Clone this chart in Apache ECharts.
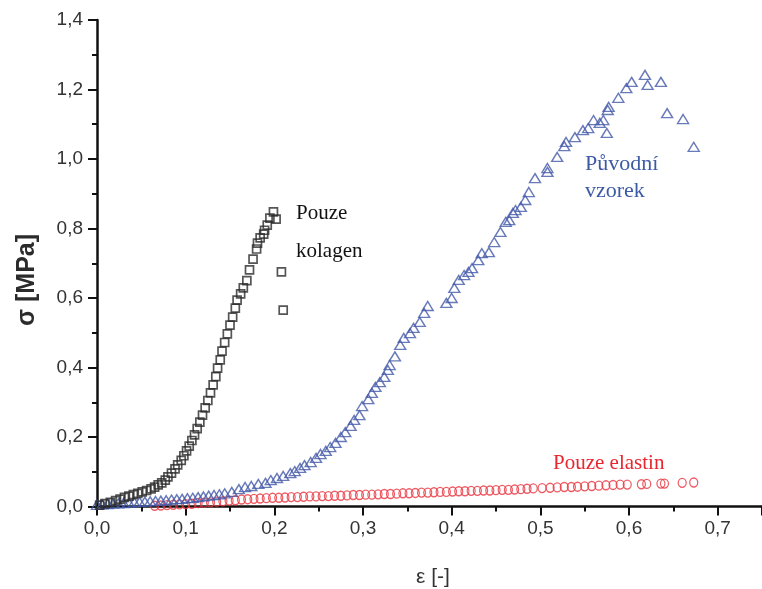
<!DOCTYPE html>
<html>
<head>
<meta charset="utf-8">
<script src="https://cdn.jsdelivr.net/npm/echarts@6/dist/echarts.min.js"></script>
<style>
html,body{margin:0;padding:0;background:#fff;}
#chart{width:762px;height:589px;}
</style>
</head>
<body>
<div id="chart"></div>
<script>
// Tick labels
const xTicks = [0, 0.1, 0.2, 0.3, 0.4, 0.5, 0.6, 0.7];
const yTicks = [0, 0.2, 0.4, 0.6, 0.8, 1.0, 1.2, 1.4];

// Pouze kolagen (black squares)
const kolagenX = [0.003,0.009,0.015,0.021,0.026,0.031,0.036,0.041,0.046,0.051,0.056,0.061,0.065,0.069,0.073,0.077,0.080,0.084,0.088,0.091,0.095,0.098,0.101,0.104,0.107,0.110,0.113,0.116,0.119,0.122,0.125,0.128,0.131,0.134,0.136,0.139,0.141,0.144,0.147,0.150,0.153,0.156,0.158,0.162,0.165,0.169,0.172,0.176,0.180,0.181,0.184,0.188,0.189,0.192,0.195,0.199,0.202,0.208,0.210];
const kolagenY = [0.004,0.008,0.012,0.017,0.021,0.026,0.030,0.034,0.038,0.042,0.046,0.051,0.056,0.062,0.068,0.076,0.085,0.096,0.108,0.120,0.133,0.146,0.160,0.174,0.190,0.206,0.224,0.243,0.263,0.284,0.305,0.327,0.350,0.374,0.398,0.422,0.447,0.472,0.497,0.522,0.545,0.571,0.594,0.612,0.629,0.650,0.681,0.712,0.741,0.758,0.773,0.784,0.795,0.810,0.830,0.848,0.827,0.675,0.565];

// Původní vzorek (blue triangles)
const vzorekX = [0.000,0.006,0.012,0.018,0.024,0.030,0.036,0.042,0.048,0.054,0.060,0.066,0.072,0.078,0.084,0.090,0.096,0.102,0.108,0.114,0.120,0.126,0.132,0.138,0.144,0.152,0.160,0.167,0.174,0.182,0.190,0.196,0.203,0.210,0.218,0.223,0.229,0.234,0.241,0.247,0.252,0.258,0.263,0.269,0.275,0.280,0.286,0.290,0.296,0.299,0.306,0.310,0.314,0.319,0.324,0.328,0.330,0.336,0.342,0.346,0.353,0.357,0.364,0.369,0.373,0.394,0.400,0.403,0.408,0.414,0.419,0.423,0.430,0.434,0.442,0.448,0.455,0.461,0.465,0.469,0.472,0.478,0.483,0.487,0.494,0.508,0.508,0.519,0.527,0.529,0.539,0.548,0.554,0.560,0.567,0.571,0.575,0.576,0.577,0.588,0.597,0.603,0.618,0.621,0.636,0.643,0.661,0.673];
const vzorekY = [0.005,0.006,0.007,0.008,0.009,0.010,0.011,0.012,0.013,0.014,0.015,0.016,0.017,0.018,0.020,0.021,0.022,0.024,0.025,0.027,0.029,0.031,0.033,0.035,0.038,0.042,0.050,0.056,0.059,0.065,0.068,0.076,0.082,0.088,0.096,0.102,0.111,0.119,0.128,0.140,0.151,0.160,0.171,0.183,0.200,0.214,0.232,0.249,0.263,0.289,0.309,0.327,0.344,0.358,0.373,0.393,0.407,0.432,0.465,0.485,0.499,0.514,0.531,0.557,0.577,0.586,0.600,0.629,0.652,0.666,0.675,0.686,0.709,0.729,0.732,0.761,0.790,0.819,0.824,0.845,0.853,0.862,0.882,0.905,0.945,0.963,0.974,1.006,1.037,1.049,1.063,1.083,1.089,1.112,1.104,1.112,1.075,1.141,1.150,1.176,1.204,1.222,1.242,1.213,1.222,1.132,1.115,1.035];

// Pouze elastin (red circles)
const elastinX = [0.065,0.072,0.079,0.086,0.093,0.100,0.107,0.114,0.121,0.128,0.135,0.142,0.149,0.156,0.163,0.170,0.177,0.184,0.191,0.198,0.205,0.212,0.219,0.226,0.233,0.240,0.247,0.254,0.261,0.268,0.275,0.282,0.289,0.296,0.303,0.310,0.317,0.324,0.331,0.338,0.345,0.352,0.359,0.366,0.373,0.380,0.387,0.394,0.401,0.408,0.415,0.422,0.429,0.436,0.443,0.450,0.457,0.464,0.471,0.478,0.485,0.492,0.502,0.511,0.519,0.527,0.535,0.542,0.550,0.558,0.566,0.574,0.582,0.590,0.598,0.614,0.620,0.636,0.640,0.660,0.673];
const elastinY = [0.002,0.003,0.004,0.005,0.006,0.007,0.008,0.010,0.011,0.012,0.014,0.015,0.017,0.018,0.020,0.021,0.022,0.023,0.024,0.025,0.025,0.026,0.027,0.027,0.028,0.029,0.029,0.030,0.030,0.031,0.031,0.032,0.033,0.033,0.034,0.034,0.035,0.036,0.036,0.037,0.038,0.038,0.039,0.040,0.040,0.041,0.042,0.042,0.043,0.044,0.044,0.045,0.045,0.046,0.046,0.047,0.048,0.048,0.049,0.050,0.051,0.052,0.053,0.054,0.055,0.056,0.056,0.057,0.058,0.059,0.060,0.061,0.062,0.063,0.063,0.064,0.065,0.066,0.066,0.068,0.069];

const zip = (xs, ys) => xs.map((x, i) => [x, ys[i]]);
const fmt = v => (Math.round(v * 10) / 10).toFixed(1).replace('.', ',');

const chart = echarts.init(document.getElementById('chart'), null, {renderer: 'canvas'});
chart.setOption({
  animation: false,
  backgroundColor: '#ffffff',
  grid: {left: 97, top: 20, right: -7, bottom: 82.5, containLabel: false},
  xAxis: {
    type: 'value', min: 0, max: 0.75, interval: 0.1,
    axisLine: {onZero: false, lineStyle: {color: '#111', width: 2.5}},
    axisTick: {show: true, inside: false, length: 9, lineStyle: {color: '#111', width: 2}},
    minorTick: {show: true, splitNumber: 2, length: 5, lineStyle: {color: '#111', width: 2}},
    axisLabel: {
      formatter: v => xTicks.some(t => Math.abs(t - v) < 1e-9) ? fmt(v) : '',
      showMaxLabel: false,
      fontFamily: 'Liberation Sans, Arial, sans-serif', fontSize: 19, color: '#333', margin: 13
    },
    splitLine: {show: false}
  },
  yAxis: {
    type: 'value', min: 0, max: 1.4, interval: 0.2,
    axisLine: {onZero: false, lineStyle: {color: '#111', width: 2.5}},
    axisTick: {show: true, inside: false, length: 9, lineStyle: {color: '#111', width: 2}},
    minorTick: {show: true, splitNumber: 2, length: 5, lineStyle: {color: '#111', width: 2}},
    axisLabel: {
      formatter: v => yTicks.some(t => Math.abs(t - v) < 1e-9) ? fmt(v) : '',
      fontFamily: 'Liberation Sans, Arial, sans-serif', fontSize: 19, color: '#333', margin: 14
    },
    splitLine: {show: false}
  },
  series: [
    {
      name: 'Pouze elastin', type: 'scatter', data: zip(elastinX, elastinY),
      symbol: 'circle', symbolSize: [8, 9],
      itemStyle: {color: 'rgba(0,0,0,0)', borderColor: '#e8333d', borderWidth: 1.3}
    },
    {
      name: 'Původní vzorek', type: 'scatter', data: zip(vzorekX, vzorekY),
      symbol: 'triangle', symbolSize: [11, 9],
      itemStyle: {color: 'rgba(0,0,0,0)', borderColor: '#4459a8', borderWidth: 1.4}
    },
    {
      name: 'Pouze kolagen', type: 'scatter', data: zip(kolagenX, kolagenY),
      symbol: 'rect', symbolSize: 8,
      itemStyle: {color: 'rgba(0,0,0,0)', borderColor: '#2a2a2a', borderWidth: 1.7}
    }
  ],
  graphic: [
    {type: 'text', x: 27, y: 280, rotation: Math.PI / 2,
     style: {text: 'σ [MPa]', font: 'bold 25px "Liberation Sans", Arial, sans-serif', fill: '#2b2b2b', textAlign: 'center', textVerticalAlign: 'middle'}},
    {type: 'text', x: 433, y: 577,
     style: {text: 'ε [-]', font: '21px "Liberation Sans", Arial, sans-serif', fill: '#333', textAlign: 'center', textVerticalAlign: 'middle'}},
    {type: 'text', x: 296, y: 213,
     style: {text: 'Pouze', font: '21px "Liberation Serif", "Times New Roman", serif', fill: '#111', textAlign: 'left', textVerticalAlign: 'middle'}},
    {type: 'text', x: 296, y: 251,
     style: {text: 'kolagen', font: '21px "Liberation Serif", "Times New Roman", serif', fill: '#111', textAlign: 'left', textVerticalAlign: 'middle'}},
    {type: 'text', x: 585, y: 164,
     style: {text: 'Původní', font: '22px "Liberation Serif", "Times New Roman", serif', fill: '#3d5aa6', textAlign: 'left', textVerticalAlign: 'middle'}},
    {type: 'text', x: 585, y: 191,
     style: {text: 'vzorek', font: '22px "Liberation Serif", "Times New Roman", serif', fill: '#3d5aa6', textAlign: 'left', textVerticalAlign: 'middle'}},
    {type: 'text', x: 553, y: 463,
     style: {text: 'Pouze elastin', font: '21px "Liberation Serif", "Times New Roman", serif', fill: '#e8262f', textAlign: 'left', textVerticalAlign: 'middle'}}
  ]
});
</script>
</body>
</html>
